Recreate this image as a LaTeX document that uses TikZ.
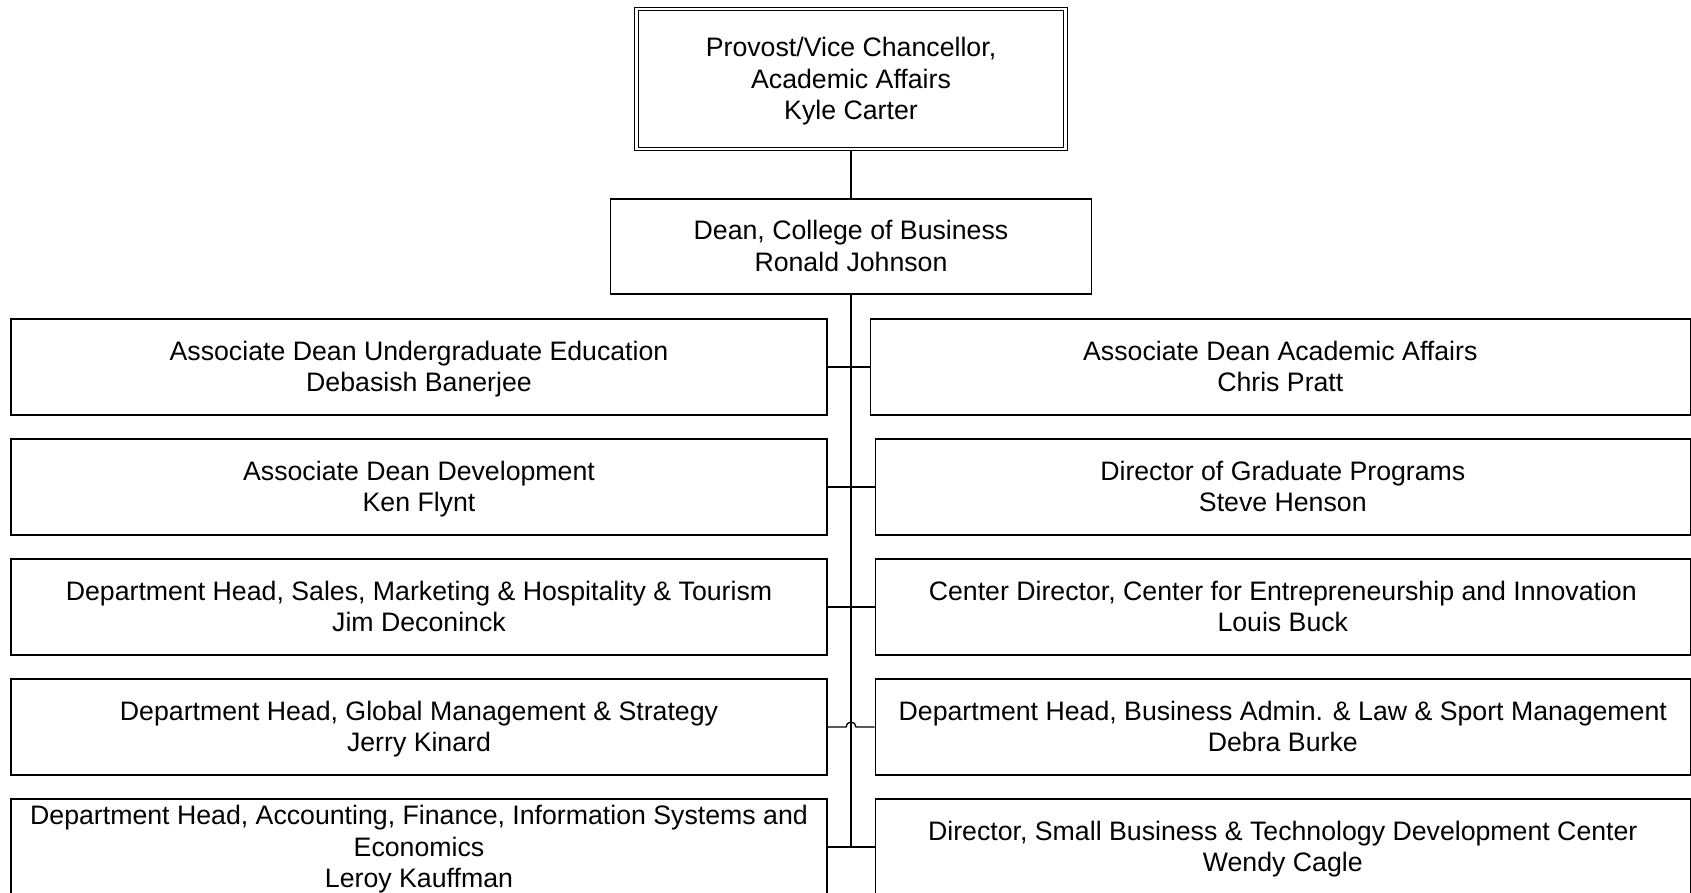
\documentclass[tikz,border=0pt]{standalone}
\usepackage{fontspec}
\setmainfont{Liberation Sans}
\usetikzlibrary{positioning}

\begin{document}
\begin{tikzpicture}[
    x=1pt, y=-1pt,
    node distance=22.7pt and 42pt,
    every node/.style={font=\fontsize{26.7}{31.3}\selectfont, align=center, text depth=1.2pt},
    box/.style={draw, line width=1.3pt, inner xsep=3pt, inner ysep=0.5pt, minimum height=96pt},
    leftbox/.style={box, minimum width=816pt},
    rightbox/.style={box, minimum width=815pt},
    topbox/.style={draw, double, line width=1.1pt, double distance=2.2pt, minimum width=429pt, minimum height=140pt},
    link/.style={line width=1.3pt}
]
\useasboundingbox (0,0) rectangle (1691,893);

% Top of the chart
\node[topbox] (provost) at (851,79) {Provost/Vice Chancellor,\\Academic Affairs\\Kyle Carter};
\node[box, minimum width=481pt, minimum height=95pt] (dean) at (851,246.5) {Dean, College of Business\\Ronald Johnson};

% Left column
\node[leftbox] (ugrad) at (419,367) {Associate Dean Undergraduate Education\\Debasish Banerjee};
\node[leftbox, below=of ugrad] (devel) {Associate Dean Development\\Ken Flynt};
\node[leftbox, below=of devel] (sales) {Department Head, Sales, Marketing \& Hospitality \& Tourism\\Jim Deconinck};
\node[leftbox, below=of sales] (global) {Department Head, Global Management \& Strategy\\Jerry Kinard};
\node[leftbox, below=of global] (acct) {Department Head, Accounting, Finance, Information Systems and\\Economics\\Leroy Kauffman};

% Right column
\node[box, minimum width=820pt, right=of ugrad] (acad) {Associate Dean Academic Affairs\\Chris Pratt};
\node[rightbox, right=47pt of devel] (grad) {Director of Graduate Programs\\Steve Henson};
\node[rightbox, right=47pt of sales] (entre) {Center Director, Center for Entrepreneurship and Innovation\\Louis Buck};
\node[rightbox, right=47pt of global] (admin) {Department Head, Business Admin. \& Law \& Sport Management\\Debra Burke};
\node[rightbox, right=47pt of acct] (sbtdc) {Director, Small Business \& Technology Development Center\\Wendy Cagle};

% Connectors
\coordinate (spineend) at (dean.south |- acct.east);
\draw[link] (provost) -- (dean);
\draw[link] (dean.south) -- (spineend);
\draw[link] (ugrad.east) -- (acad.west);
\draw[link] (devel.east) -- (grad.west);
\draw[link] (sales.east) -- (entre.west);
\draw[link] (global.east) -- ([xshift=-5pt]dean.south |- global.east)
  arc[start angle=180, end angle=0, radius=5pt] -- (admin.west);
\draw[link] (acct.east) -- (sbtdc.west);

\end{tikzpicture}
\end{document}
